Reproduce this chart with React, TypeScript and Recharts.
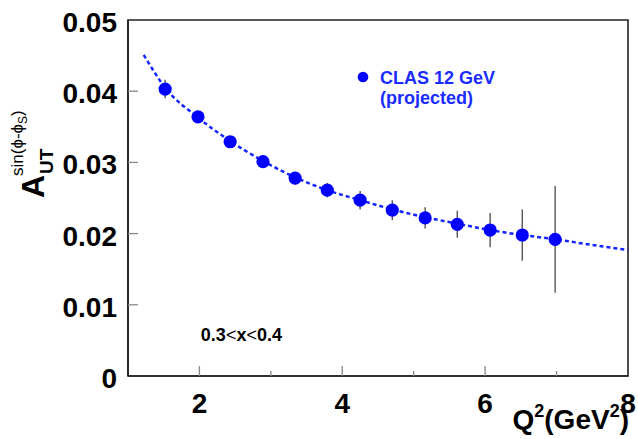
import React from 'react';
import {
  ComposedChart,
  Scatter,
  Line,
  XAxis,
  YAxis,
  ErrorBar,
  ReferenceArea,
  ReferenceDot,
} from 'recharts';

// projected CLAS 12 GeV points
const q2Values = [1.52, 1.98, 2.43, 2.89, 3.34, 3.79, 4.25, 4.7, 5.16, 5.61, 6.07, 6.52, 6.98];
const asymValues = [0.0403, 0.0364, 0.0329, 0.0301, 0.0278, 0.0261, 0.0247, 0.0233, 0.0222, 0.0213, 0.0205, 0.0198, 0.0192];
const asymErrors = [0.0013, 0.0008, 0.0008, 0.0008, 0.0009, 0.001, 0.0013, 0.0014, 0.0015, 0.0019, 0.0024, 0.0036, 0.0075];

// dashed model curve
const fitQ2 = [1.22, 1.52, 1.98, 2.43, 2.89, 3.34, 3.79, 4.25, 4.7, 5.16, 5.61, 6.07, 6.52, 6.98, 7.5, 8.0];
const fitValues = [0.0451, 0.0405, 0.0363, 0.033, 0.0302, 0.0279, 0.0261, 0.0247, 0.0234, 0.0223, 0.0214, 0.0205, 0.0198, 0.0192, 0.0184, 0.0177];

const xTicks = [2, 3, 4, 5, 6, 7, 8];
const xTickLabels = ['2', '', '4', '', '6', '', '8'];
const yTicks = [0, 0.01, 0.02, 0.03, 0.04, 0.05];
const yTickLabels = ['0', '0.01', '0.02', '0.03', '0.04', '0.05'];

const legendLines = ['CLAS 12 GeV', '(projected)'];
const binLabel = ['0.3', '<', 'x', '<', '0.4'];

const FONT = '"Liberation Sans", Arial, Helvetica, sans-serif';
const BLUE = '#0000ff';

const points = q2Values.map((q2, i) => ({ q2, a: asymValues[i], err: asymErrors[i] }));
const fit = fitQ2.map((q2, i) => ({ q2, a: fitValues[i] }));

const YTick = (props: any) => {
  const { x, y, payload } = props;
  const idx = yTicks.indexOf(payload.value);
  const inner = payload.value > 0 && payload.value < 0.05;
  return (
    <g>
      {inner && <line x1={x} y1={y} x2={x + 10} y2={y} stroke="#888" strokeWidth={1.3} />}
      <text x={x - 11} y={y + 12} textAnchor="end" fontFamily={FONT} fontWeight="bold" fontSize={28} fill="#000">
        {yTickLabels[idx]}
      </text>
    </g>
  );
};

const XTick = (props: any) => {
  const { x, y, payload } = props;
  const idx = xTicks.indexOf(payload.value);
  const label = xTickLabels[idx];
  const len = label ? 10 : 5;
  return (
    <g>
      {payload.value < 8 && <line x1={x} y1={y} x2={x} y2={y - len} stroke="#888" strokeWidth={1.3} />}
      {label && (
        <text x={x} y={y + 37} textAnchor="middle" fontFamily={FONT} fontWeight="bold" fontSize={28} fill="#000">
          {label}
        </text>
      )}
    </g>
  );
};

const YTitle = (props: any) => {
  const vb = props.viewBox || { x: 0, y: 20 };
  return (
    <g transform={`translate(${vb.x + 44}, 198) rotate(-90)`} fontFamily={FONT} fill="#000">
      <text x={0} y={0} fontSize={32} fontWeight="bold">A</text>
      <text x={24} y={9} fontSize={19} fontWeight="bold">UT</text>
      <text x={22} y={-21} fontSize={17}>
        sin(ϕ-ϕ<tspan fontSize={12} dy={4}>S</tspan>
        <tspan dy={-4}>)</tspan>
      </text>
    </g>
  );
};

const XTitle = (props: any) => {
  const vb = props.viewBox;
  return (
    <text x={vb.x + vb.width + 1} y={vb.y + 53} textAnchor="end" fontFamily={FONT} fontWeight="bold" fontSize={28} fill="#000">
      Q<tspan fontSize={18} dy={-12}>2</tspan>
      <tspan dy={12}>(GeV</tspan>
      <tspan fontSize={18} dy={-12}>2</tspan>
      <tspan dy={12}>)</tspan>
    </text>
  );
};

const LegendLabel = (props: any) => {
  const vb = props.viewBox;
  const cx = vb.x + vb.width / 2;
  const cy = vb.y + vb.height / 2;
  return (
    <g fontFamily={FONT} fontWeight="bold" fontSize={18} fill="#1a2cff">
      {legendLines.map((t, i) => (
        <text key={t} x={cx + 17} y={cy + 7.5 + i * 20}>{t}</text>
      ))}
    </g>
  );
};

const BinLabel = (props: any) => {
  const vb = props.viewBox;
  return (
    <text x={vb.x} y={vb.y + 7} fontFamily={FONT} fontSize={18} fill="#000">
      {binLabel.map((t, i) => (
        <tspan key={i} fontWeight={t === '<' ? 'normal' : 'bold'}>{t}</tspan>
      ))}
    </text>
  );
};

const Dot = (props: any) => <circle cx={props.cx} cy={props.cy} r={6.6} fill={BLUE} />;

const App: React.FC = () => {
  return (
    <div style={{ position: 'absolute', left: 0, top: 0, width: 638, height: 439, background: '#fff' }}>
      <ComposedChart width={638} height={439} margin={{ top: 20, right: 10, bottom: 8, left: 0 }}>
        <XAxis
          dataKey="q2"
          type="number"
          domain={[1, 8]}
          ticks={xTicks}
          allowDataOverflow
          height={55}
          tickSize={0}
          tickMargin={0}
          tickLine={false}
          tick={<XTick />}
          axisLine={{ stroke: '#222', strokeWidth: 1.6 }}
          label={{ content: <XTitle /> }}
        />
        <YAxis
          type="number"
          domain={[0, 0.05]}
          ticks={yTicks}
          allowDataOverflow
          width={128}
          tickSize={0}
          tickMargin={0}
          tickLine={false}
          tick={<YTick />}
          axisLine={{ stroke: '#222', strokeWidth: 1.6 }}
          label={{ content: <YTitle /> }}
        />
        <ReferenceArea x1={1} x2={8} y1={0} y2={0.05} fill="none" stroke="#222" strokeWidth={1.6} fillOpacity={0} />
        <Line
          data={fit}
          dataKey="a"
          type="monotone"
          stroke="#1426ff"
          strokeWidth={2.5}
          strokeDasharray="4 3"
          dot={false}
          activeDot={false}
          isAnimationActive={false}
        />
        <Scatter data={points} dataKey="a" shape={<Dot />} isAnimationActive={false}>
          <ErrorBar dataKey="err" direction="y" width={0} stroke="#555" strokeWidth={1.4} />
        </Scatter>
        <ReferenceDot x={4.29} y={0.042} r={5.3} fill={BLUE} stroke="none" label={{ content: <LegendLabel /> }} />
        <ReferenceDot x={2.02} y={0.0059} r={0} fill="none" stroke="none" label={{ content: <BinLabel /> }} />
      </ComposedChart>
    </div>
  );
};

export default App;
